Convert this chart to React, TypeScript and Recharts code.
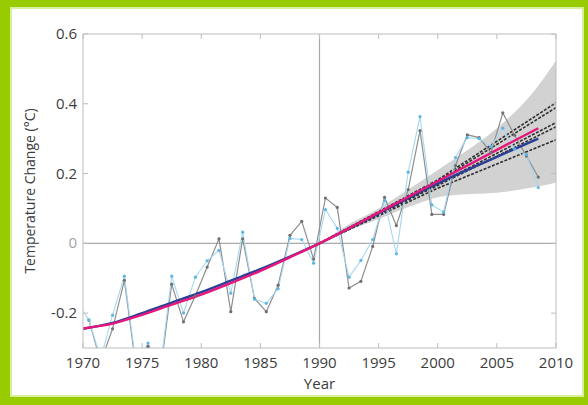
import { ComposedChart, Line, Area, XAxis, YAxis, ReferenceLine } from 'recharts'

// axis ticks
const yearTicks = [1970, 1975, 1980, 1985, 1990, 1995, 2000, 2005, 2010]
const tempTicks = [-0.2, 0, 0.2, 0.4, 0.6]

// annual observations (mid-year)
const greyYears = [
  1970.5, 1971.5, 1972.5, 1973.5, 1974.5, 1975.5, 1976.5, 1977.5, 1978.5, 1979.5,
  1980.5, 1981.5, 1982.5, 1983.5, 1984.5, 1985.5, 1986.5, 1987.5, 1988.5, 1989.5,
  1990.5, 1991.5, 1992.5, 1993.5, 1994.5, 1995.5, 1996.5, 1997.5, 1998.5, 1999.5,
  2000.5, 2001.5, 2002.5, 2003.5, 2004.5, 2005.5, 2006.5, 2007.5, 2008.5,
]
const greyValues = [
  -0.22, -0.34, -0.245, -0.106, -0.36, -0.295, -0.38, -0.117, -0.225, -0.15,
  -0.068, 0.013, -0.196, 0.013, -0.158, -0.196, -0.12, 0.023, 0.063, -0.045,
  0.13, 0.103, -0.128, -0.109, -0.009, 0.132, 0.051, 0.154, 0.323, 0.083,
  0.083, 0.223, 0.311, 0.303, 0.26, 0.374, 0.31, 0.25, 0.19,
]

const cyanYears = [1969.5, ...greyYears]
const cyanValues = [
  -0.17,
  -0.22, -0.33, -0.206, -0.094, -0.35, -0.286, -0.37, -0.094, -0.2, -0.097,
  -0.05, -0.02, -0.143, 0.032, -0.16, -0.172, -0.13, 0.014, 0.011, -0.057,
  0.097, 0.043, -0.097, -0.049, 0.011, 0.123, -0.03, 0.204, 0.363, 0.11,
  0.09, 0.246, 0.303, 0.3, 0.277, 0.33, 0.27, 0.254, 0.16,
]

// smoothed trends
const trendYears = [1970, 1972.5, 1975, 1977.5, 1980, 1982.5, 1985, 1987.5, 1990, 1995, 2000, 2005, 2008.5]
const blueTrend = [-0.245, -0.228, -0.2, -0.17, -0.14, -0.107, -0.074, -0.038, 0, 0.086, 0.172, 0.248, 0.3]
const pinkTrend = [-0.244, -0.23, -0.205, -0.176, -0.147, -0.114, -0.079, -0.04, 0, 0.088, 0.178, 0.268, 0.33]

// projection envelope
const bandYears = [1990, 1992, 1995, 1998, 2000, 2002, 2005, 2008, 2010]
const bandLow = [0, 0.03, 0.07, 0.11, 0.132, 0.14, 0.145, 0.16, 0.174]
const bandHigh = [0, 0.045, 0.1, 0.165, 0.21, 0.255, 0.33, 0.43, 0.523]

// model projections
const projYears = [1990, 2000, 2010]
const projections = [
  [0, 0.182, 0.403],
  [0, 0.178, 0.389],
  [0, 0.17, 0.346],
  [0, 0.166, 0.334],
  [0, 0.158, 0.297],
]

const toPoints = (years: number[], values: number[]) =>
  years.map((year, i) => ({ year, value: values[i] }))

const greyData = toPoints(greyYears, greyValues)
const cyanData = toPoints(cyanYears, cyanValues)
const blueData = toPoints(trendYears, blueTrend)
const pinkData = toPoints(trendYears, pinkTrend)
const bandData = bandYears.map((year, i) => ({ year, range: [bandLow[i], bandHigh[i]] }))

const font = '"Open Sans", "DejaVu Sans", sans-serif'
const frame = '#bdbdbd'

function TempTick(props: any) {
  const { x, y, payload } = props
  const v = payload.value as number
  return (
    <text
      x={x}
      y={y}
      dy={5}
      textAnchor="end"
      fontSize={15}
      fontFamily={font}
      fill={v === 0 ? '#a3a3a3' : '#3c3c3c'}
    >
      {v === 0 ? '0' : v.toFixed(1)}
    </text>
  )
}

export default function App() {
  return (
    <div
      style={{
        position: 'absolute',
        left: 0,
        top: 0,
        width: 588,
        height: 405,
        background: '#99cc00',
      }}
    >
      <div
        style={{
          position: 'absolute',
          left: 10,
          top: 7,
          width: 570,
          height: 386,
          background: '#ffffff',
          border: '2px solid #d8ef9e',
        }}
      />
      <div style={{ position: 'absolute', left: 0, top: 0 }}>
        <ComposedChart
          width={588}
          height={405}
          margin={{ top: 33, right: 31, bottom: 0, left: 0 }}
        >
          <XAxis
            xAxisId="bottom"
            type="number"
            dataKey="year"
            domain={[1970, 2010]}
            ticks={yearTicks}
            allowDataOverflow
            height={57}
            stroke={frame}
            tickSize={-5}
            tickMargin={14}
            tick={{ fill: '#3c3c3c', fontSize: 15, fontFamily: font }}
            label={{
              value: 'Year',
              position: 'insideBottom',
              offset: 16,
              fill: '#3c3c3c',
              fontSize: 15,
              fontFamily: font,
            }}
          />
          <XAxis
            xAxisId="top"
            orientation="top"
            type="number"
            dataKey="year"
            domain={[1970, 2010]}
            ticks={yearTicks}
            allowDataOverflow
            height={1}
            stroke={frame}
            tickSize={-5}
            tickFormatter={() => ''}
          />
          <YAxis
            yAxisId="left"
            type="number"
            domain={[-0.3, 0.6]}
            ticks={tempTicks}
            allowDataOverflow
            width={83}
            stroke={frame}
            tickSize={-5}
            tickMargin={11}
            tick={<TempTick />}
            label={{
              value: 'Temperature Change (°C)',
              angle: -90,
              position: 'insideLeft',
              offset: 30,
              fill: '#3c3c3c',
              fontSize: 14,
              fontFamily: font,
              style: { textAnchor: 'middle' },
            }}
          />
          <YAxis
            yAxisId="right"
            orientation="right"
            type="number"
            domain={[-0.3, 0.6]}
            ticks={tempTicks}
            allowDataOverflow
            width={1}
            stroke={frame}
            tickSize={-5}
            tickFormatter={() => ''}
          />

          <Area
            xAxisId="bottom"
            yAxisId="left"
            data={bandData}
            dataKey="range"
            type="monotone"
            fill="#d2d2d2"
            fillOpacity={1}
            stroke="none"
            isAnimationActive={false}
          />

          <ReferenceLine xAxisId="bottom" yAxisId="left" x={1990} stroke="#a9a9a9" strokeWidth={1.2} />
          <ReferenceLine xAxisId="bottom" yAxisId="left" y={0} stroke="#a9a9a9" strokeWidth={1.2} />

          {projections.map((values, i) => (
            <Line
              key={i}
              xAxisId="bottom"
              yAxisId="left"
              data={toPoints(projYears, values)}
              dataKey="value"
              type="linear"
              stroke="#2e2e2e"
              strokeWidth={1.6}
              strokeDasharray="3 1.5"
              dot={false}
              isAnimationActive={false}
            />
          ))}

          <Line
            xAxisId="bottom"
            yAxisId="left"
            data={greyData}
            dataKey="value"
            type="linear"
            stroke="#8e8e8e"
            strokeWidth={1.2}
            dot={{ r: 1.6, fill: '#6f6f6f', stroke: 'none' }}
            isAnimationActive={false}
          />
          <Line
            xAxisId="bottom"
            yAxisId="left"
            data={cyanData}
            dataKey="value"
            type="linear"
            stroke="#a6d8f2"
            strokeWidth={1.1}
            dot={{ r: 1.6, fill: '#5ab7e6', stroke: 'none' }}
            isAnimationActive={false}
          />
          <Line
            xAxisId="bottom"
            yAxisId="left"
            data={blueData}
            dataKey="value"
            type="monotone"
            stroke="#2b3f96"
            strokeWidth={2.4}
            dot={false}
            isAnimationActive={false}
          />
          <Line
            xAxisId="bottom"
            yAxisId="left"
            data={pinkData}
            dataKey="value"
            type="monotone"
            stroke="#e5167c"
            strokeWidth={2.4}
            dot={false}
            isAnimationActive={false}
          />
        </ComposedChart>
      </div>
    </div>
  )
}
